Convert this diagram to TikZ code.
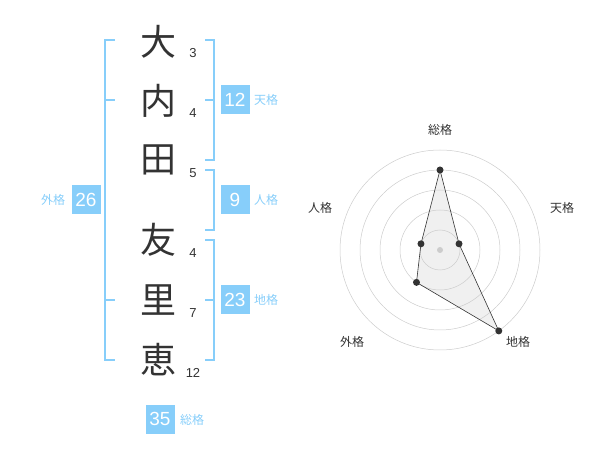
\documentclass[tikz,border=0pt]{standalone}
\usepackage{fontspec}
\usetikzlibrary{calc,backgrounds}
\setmainfont{Liberation Sans}
\newfontfamily\jpfont{Noto Sans CJK JP}
\definecolor{kakublue}{HTML}{87CEFA}
\definecolor{inkgray}{HTML}{333333}
\definecolor{ringgray}{HTML}{CCCCCC}
\definecolor{areagray}{HTML}{F0F0F0}
\tikzset{
  kanji/.style={text=inkgray, inner sep=0pt, font=\jpfont\fontsize{36}{36}\selectfont},
  strokes/.style={text=inkgray, inner sep=0pt, font=\fontsize{13}{13}\selectfont},
  scorebox/.style={fill=kakublue, text=white, minimum size=29pt, inner sep=0pt, font=\fontsize{19}{19}\selectfont},
  kakulabel/.style={text=kakublue, inner sep=0pt, font=\jpfont\fontsize{12}{12}\selectfont},
  bracket/.style={draw=kakublue, line width=1.5pt},
  ring/.style={draw=ringgray, line width=0.5pt},
  dot/.style={circle, fill=inkgray, minimum size=7pt, inner sep=0pt},
  axislabel/.style={text=inkgray, inner sep=0pt, font=\jpfont\fontsize{12}{12}\selectfont}
}
\begin{document}
\begin{tikzpicture}[x=1pt, y=-1pt]
    \useasboundingbox (0,0) rectangle (600,470);

    % Name characters
    \node [kanji] (c1) at (158,42) {大};
    \node [kanji] (c2) at (158,101) {内};
    \node [kanji] (c3) at (158,160) {田};
    \node [kanji] (c4) at (158,240) {友};
    \node [kanji] (c5) at (158,300) {里};
    \node [kanji] (c6) at (158,360) {恵};

    % Stroke counts
    \node [strokes] (s1) at (193,53) {3};
    \node [strokes] (s2) at (193,113) {4};
    \node [strokes] (s3) at (193,173) {5};
    \node [strokes] (s4) at (193,253) {4};
    \node [strokes] (s5) at (193,313) {7};
    \node [strokes] (s6) at (193,373) {12};

    % Brackets
    \draw [bracket] (115,40) -- (105,40) -- (105,360) -- (115,360);
    \draw [bracket] (105,100) -- (115,100);
    \draw [bracket] (105,300) -- (115,300);
    \draw [bracket] (205,40) -- (214,40) -- (214,160) -- (205,160);
    \draw [bracket] (214,100) -- (205,100);
    \draw [bracket] (205,170) -- (214,170) -- (214,230) -- (205,230);
    \draw [bracket] (205,240) -- (214,240) -- (214,360) -- (205,360);
    \draw [bracket] (214,300) -- (205,300);

    % Scores
    \node [scorebox] (ten) at (235,100) {12};
    \node [kakulabel] (tenl) at (266,100) {天格};
    \node [scorebox] (jin) at (235,200) {9};
    \node [kakulabel] (jinl) at (266,200) {人格};
    \node [scorebox] (chi) at (235,300) {23};
    \node [kakulabel] (chil) at (266,300) {地格};
    \node [scorebox] (gai) at (86,200) {26};
    \node [kakulabel] (gail) at (53,200) {外格};
    \node [scorebox] (sou) at (160,419) {35};
    \node [kakulabel] (soul) at (192,420) {総格};

    % Radar chart
    \coordinate (c) at (440,250);
    \foreach \r in {20,40,60,80,100}
        \draw [ring] (c) circle (\r pt);
    \node [circle, fill=ringgray, minimum size=6pt, inner sep=0pt] (mid) at (c) {};
    \node [dot] (psou) at ($(c)+(90:80pt)$) {};
    \node [dot] (pten) at ($(c)+(18:20pt)$) {};
    \node [dot] (pchi) at ($(c)+(-54:100pt)$) {};
    \node [dot] (pgai) at ($(c)+(-126:40pt)$) {};
    \node [dot] (pjin) at ($(c)+(162:20pt)$) {};
    \begin{scope}[on background layer]
        \fill [areagray] (psou.center) -- (pten.center) -- (pchi.center) -- (pgai.center) -- (pjin.center) -- cycle;
    \end{scope}
    \draw [inkgray, line width=0.6pt] (psou.center) -- (pten.center) -- (pchi.center) -- (pgai.center) -- (pjin.center) -- cycle;

    % Axis labels
    \node [axislabel] (asou) at (440,130) {総格};
    \node [axislabel] (aten) at (562,208) {天格};
    \node [axislabel] (achi) at (518,342) {地格};
    \node [axislabel] (agai) at (352,342) {外格};
    \node [axislabel] (ajin) at (320,208) {人格};
\end{tikzpicture}
\end{document}
